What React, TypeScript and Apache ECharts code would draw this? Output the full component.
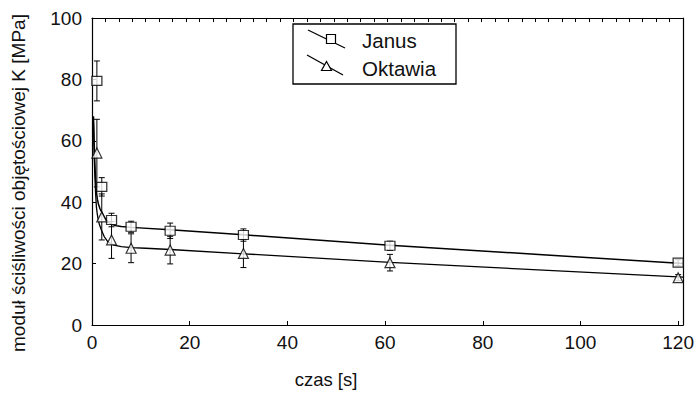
import React, { useEffect, useRef } from "react";
import * as echarts from "echarts";

// measurement times [s]
const times = [1, 2, 4, 8, 16, 31, 61, 120];
// Janus: mean and half error bar [MPa]
const janusMean = [79.5, 45, 34.2, 32.0, 30.7, 29.3, 25.8, 20.3];
const janusErr = [6.5, 3, 2.2, 1.8, 2.5, 2, 1.5, 1];
// Oktawia: mean and half error bar [MPa]
const oktawiaMean = [56, 35.2, 27.7, 25, 24.4, 23.3, 20.3, 15.4];
const oktawiaErr = [11, 7.5, 6, 4.7, 4.5, 4.6, 2.7, 1];
// fitted curves [t, K]
const janusFitT = [0.3, 0.45, 0.6, 0.75, 0.9, 1.1, 1.3, 1.6, 2, 2.5, 3, 3.5, 4, 5, 6, 8, 16, 31, 61, 121];
const janusFitK = [68, 59, 52, 47, 43.5, 41, 39.5, 38, 36.8, 35.2, 34, 33.3, 32.8, 32.3, 32.1, 31.8, 31, 29.4, 26, 20];
const oktawiaFitT = [0.3, 0.45, 0.6, 0.75, 0.9, 1.05, 1.2, 1.5, 1.9, 2.5, 3.3, 4.5, 6, 8, 11, 16, 31, 61, 121];
const oktawiaFitK = [66, 55, 48, 42.5, 38.5, 36.5, 35, 32.8, 31, 28.8, 27, 26, 25.5, 25.2, 25, 24.6, 23.2, 20.4, 15.6];

const xTicks = [0, 20, 40, 60, 80, 100, 120];

const FONT = "'Liberation Sans', Arial, sans-serif";

export default function App() {
  const ref = useRef<HTMLDivElement>(null);
  useEffect(() => {
    if (!ref.current) return;
    const chart = echarts.init(ref.current, null, { renderer: "svg" });
    const errData = (mean: number[], err: number[]) =>
      times.map((t, i) => [t, mean[i] - err[i], mean[i] + err[i]]);
    const errSeries = (name: string, mean: number[], err: number[]) => ({
      type: "custom",
      name,
      xAxisIndex: 0,
      yAxisIndex: 0,
      z: 3,
      clip: false,
      data: errData(mean, err),
      encode: { x: 0, y: [1, 2] },
      renderItem: (params: any, api: any) => {
        const x = api.value(0);
        const lo = api.value(1);
        const hi = api.value(2);
        const a = api.coord([x, hi]);
        const b = api.coord([x, lo]);
        const w = 3;
        const st = { stroke: "#000", lineWidth: 1 };
        return {
          type: "group",
          children: [
            { type: "line", shape: { x1: a[0], y1: a[1], x2: b[0], y2: b[1] }, style: st },
            { type: "line", shape: { x1: a[0] - w, y1: a[1], x2: a[0] + w, y2: a[1] }, style: st },
            { type: "line", shape: { x1: b[0] - w, y1: b[1], x2: b[0] + w, y2: b[1] }, style: st },
          ],
        };
      },
    });
    const option: any = {
      animation: false,
      backgroundColor: "#fff",
      grid: { left: 92, right: 13, top: 18, bottom: 68 },
      xAxis: [
        {
          type: "value",
          min: 0,
          max: 121,
          interval: 20,
          axisLine: { show: true, lineStyle: { color: "#000", width: 1.2 } },
          axisTick: { show: true, inside: true, length: 4, lineStyle: { color: "#000" } },
          splitLine: { show: false },
          axisLabel: {
            color: "#111",
            fontSize: 19,
            fontFamily: FONT,
            margin: 8,
            formatter: (v: number) => (xTicks.includes(v) ? String(v) : ""),
          },
        },
        {
          type: "value",
          position: "top",
          min: 0,
          max: 121,
          interval: 2.75,
          axisLine: { show: true, onZero: false, lineStyle: { color: "#000", width: 1.2 } },
          axisTick: { show: true, inside: true, length: 4, lineStyle: { color: "#000", width: 1 } },
          axisLabel: { show: false },
          splitLine: { show: false },
        },
      ],
      yAxis: [
        {
          type: "value",
          min: 0,
          max: 100,
          interval: 20,
          axisLine: { show: true, lineStyle: { color: "#000", width: 1.2 } },
          axisTick: { show: true, inside: true, length: 4, lineStyle: { color: "#000" } },
          splitLine: { show: false },
          axisLabel: { color: "#111", fontSize: 19, fontFamily: FONT, margin: 10 },
        },
        {
          type: "value",
          position: "right",
          min: 0,
          max: 100,
          axisLine: { show: true, onZero: false, lineStyle: { color: "#000", width: 1.2 } },
          axisTick: { show: false },
          axisLabel: { show: false },
          splitLine: { show: false },
        },
      ],
      series: [
        {
          type: "line",
          name: "Janus fit",
          data: janusFitT.map((t, i) => [t, janusFitK[i]]),
          showSymbol: false,
          smooth: false,
          lineStyle: { color: "#000", width: 1.5 },
          z: 2,
        },
        {
          type: "line",
          name: "Oktawia fit",
          data: oktawiaFitT.map((t, i) => [t, oktawiaFitK[i]]),
          showSymbol: false,
          smooth: false,
          lineStyle: { color: "#000", width: 1.3 },
          z: 2,
        },
        errSeries("Janus err", janusMean, janusErr),
        errSeries("Oktawia err", oktawiaMean, oktawiaErr),
        {
          type: "scatter",
          name: "Janus",
          data: times.map((t, i) => [t, janusMean[i]]),
          symbol: "rect",
          symbolSize: [10, 9],
          itemStyle: { color: "#fff", borderColor: "#000", borderWidth: 1.2 },
          z: 5,
          clip: false,
        },
        {
          type: "scatter",
          name: "Oktawia",
          data: times.map((t, i) => [t, oktawiaMean[i]]),
          symbol: "triangle",
          symbolSize: [10, 10],
          itemStyle: { color: "#fff", borderColor: "#000", borderWidth: 1.2 },
          z: 5,
          clip: false,
        },
        {
          type: "scatter",
          name: "frame",
          xAxisIndex: 1,
          yAxisIndex: 1,
          data: [],
          silent: true,
        },
      ],
      graphic: [
        {
          type: "text",
          x: 18,
          y: 183,
          rotation: Math.PI / 2,
          style: {
            text: "moduł ściśliwości objętościowej K [MPa]",
            fontSize: 19,
            fontFamily: FONT,
            fill: "#111",
            align: "center",
            verticalAlign: "middle",
          },
        },
        {
          type: "text",
          x: 326,
          y: 379,
          style: {
            text: "czas [s]",
            fontSize: 18.5,
            fontFamily: FONT,
            fill: "#111",
            align: "center",
            verticalAlign: "middle",
          },
        },
        {
          type: "group",
          z: 10,
          children: [
            {
              type: "rect",
              shape: { x: 293, y: 24, width: 163, height: 60 },
              style: { fill: "#fff", stroke: "#000", lineWidth: 1.3 },
            },
            {
              type: "line",
              shape: { x1: 308, y1: 30, x2: 345, y2: 48 },
              style: { stroke: "#000", lineWidth: 1.3 },
            },
            {
              type: "rect",
              shape: { x: 326.5, y: 34.5, width: 9, height: 9 },
              style: { fill: "#fff", stroke: "#000", lineWidth: 1.2 },
            },
            {
              type: "text",
              x: 362,
              y: 40,
              style: { text: "Janus", fontSize: 20.5, fontFamily: FONT, fill: "#111", verticalAlign: "middle" },
            },
            {
              type: "line",
              shape: { x1: 307, y1: 55, x2: 343, y2: 75 },
              style: { stroke: "#000", lineWidth: 1.3 },
            },
            {
              type: "polygon",
              shape: { points: [[326.5, 61.5], [331.5, 70.5], [321.5, 70.5]] },
              style: { fill: "#fff", stroke: "#000", lineWidth: 1.2 },
            },
            {
              type: "text",
              x: 362,
              y: 68,
              style: { text: "Oktawia", fontSize: 20.5, fontFamily: FONT, fill: "#111", verticalAlign: "middle" },
            },
          ],
        },
      ],
    };
    chart.setOption(option);
    return () => chart.dispose();
  }, []);
  return <div ref={ref} style={{ width: 697, height: 393, position: "absolute", left: 0, top: 0 }} />;
}
